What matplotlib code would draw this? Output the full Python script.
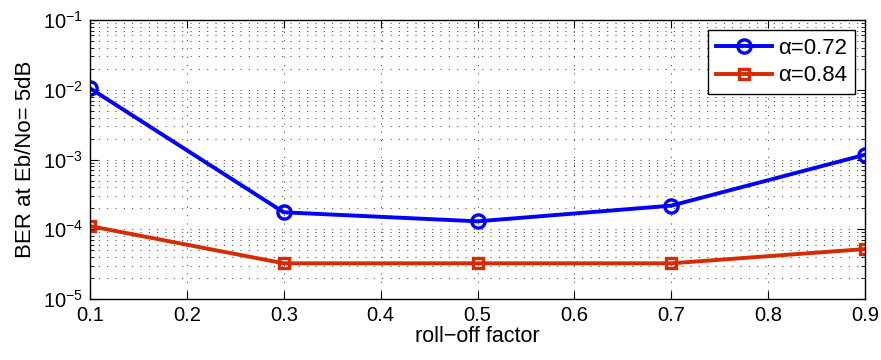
import matplotlib
matplotlib.use("Agg")
import matplotlib.pyplot as plt
from matplotlib.ticker import LogLocator, NullFormatter

plt.rcParams['font.family'] = ['Liberation Sans', 'DejaVu Sans']
plt.rcParams['mathtext.fontset'] = 'custom'
plt.rcParams['mathtext.rm'] = 'Liberation Sans'
plt.rcParams['mathtext.it'] = 'Liberation Sans'

rolloff = [0.1, 0.3, 0.5, 0.7, 0.9]
ber_a072 = [1.05e-2, 1.75e-4, 1.3e-4, 2.18e-4, 1.17e-3]
ber_a084 = [1.11e-4, 3.25e-5, 3.25e-5, 3.25e-5, 5.2e-5]
xticks = [0.1, 0.2, 0.3, 0.4, 0.5, 0.6, 0.7, 0.8, 0.9]

fig = plt.figure(figsize=(8.81, 3.6), dpi=100)
ax = fig.add_axes([0.1022, 0.1694, 0.8796, 0.775])

ax.semilogy(rolloff, ber_a072, '-o', color='#0000ff', lw=2.8, ms=9.5,
            mfc='none', mew=2.4, label='α=0.72')
ax.semilogy(rolloff, ber_a084, '-s', color='#d62a00', lw=2.8, ms=7.5,
            mfc='none', mew=2.4, label='α=0.84')

ax.set_xlim(0.1, 0.9)
ax.set_ylim(1e-5, 1e-1)
ax.set_xticks(xticks)
ax.set_xticklabels([f'{t:.1f}' for t in xticks])
ax.yaxis.set_major_locator(LogLocator(base=10, numticks=10))
ax.yaxis.set_minor_locator(LogLocator(base=10, subs=range(2, 10), numticks=20))
ax.yaxis.set_minor_formatter(NullFormatter())

# sparse MATLAB-style dotted grid
grid_kw = dict(ls=(0, (1, 7)), color='#444444', lw=0.75)
ax.grid(True, which='major', axis='both', **grid_kw)
ax.grid(True, which='minor', axis='y', **grid_kw)

ax.tick_params(which='both', direction='in', top=True, right=True,
               labelsize=14.5, color='black')
ax.tick_params(which='major', length=6, pad=5)
ax.tick_params(which='minor', length=3)
for s in ax.spines.values():
    s.set_linewidth(1.0)

ax.set_xlabel('roll−off factor', fontsize=15.5, labelpad=1)
ax.set_ylabel('BER at Eb/No= 5dB', fontsize=16, labelpad=5)

leg = ax.legend(loc='upper right', fontsize=16, frameon=True, fancybox=False,
                edgecolor='black', framealpha=1, borderaxespad=0.45,
                handlelength=2.5, handletextpad=0.3, labelspacing=0.3,
                borderpad=0.35)
leg.get_frame().set_linewidth(1.0)

fig.savefig('out.png', dpi=100)
